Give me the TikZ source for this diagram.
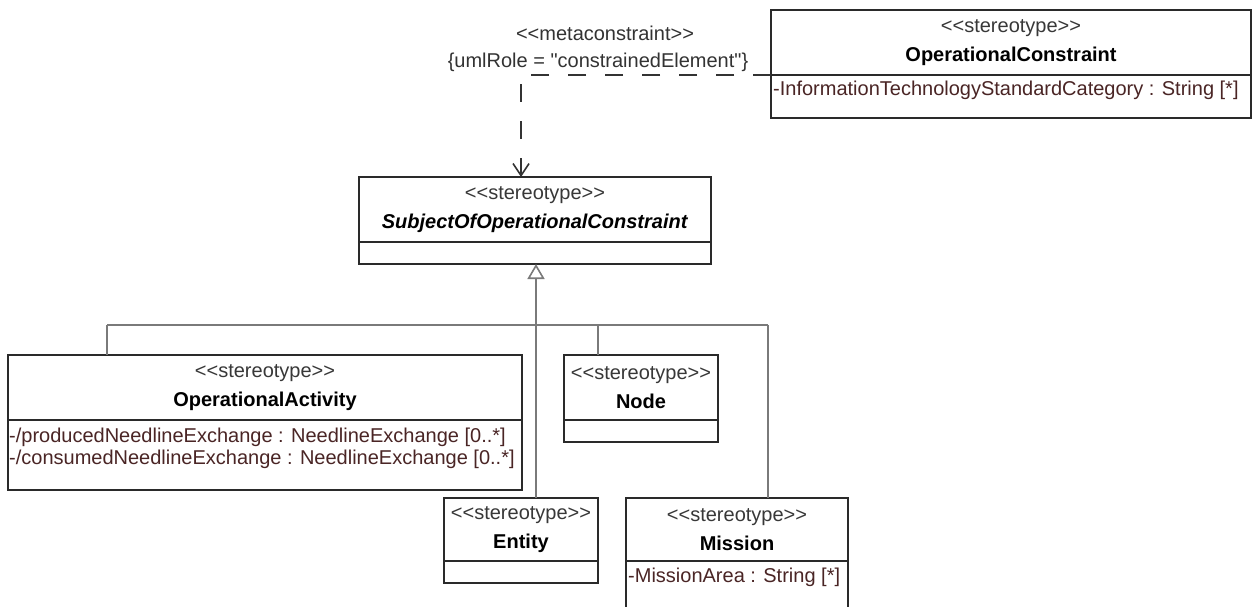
\documentclass[tikz,border=0pt]{standalone}
\usepackage{fontspec}
\setmainfont{Liberation Sans}[Ligatures=TeXOff]
\usetikzlibrary{arrows.meta}
\definecolor{boxline}{HTML}{2A2A2A}
\definecolor{conn}{HTML}{7A7A7A}
\definecolor{attr}{HTML}{4A2525}
\definecolor{stc}{HTML}{383838}
\definecolor{depc}{HTML}{333333}
\newcommand\stt[1]{\textcolor{stc}{#1}}
\begin{document}
\begin{tikzpicture}[x=1pt,y=1pt,
  hdr/.style={draw=boxline, line width=1.8pt, anchor=north west, inner sep=0pt, outer sep=0pt, align=center, font=\fontsize{20}{29}\selectfont},
  bdy/.style={draw=boxline, line width=1.8pt, anchor=north west, inner sep=0pt, outer sep=0pt},
  attrtxt/.style={anchor=west, inner sep=0pt, text=attr, font=\fontsize{20}{22}\selectfont},
  lbl/.style={inner sep=0pt, text=depc, font=\fontsize{20}{22}\selectfont},
  gen/.style={draw=conn, line width=1.6pt},
  dep/.style={draw=depc, line width=1.8pt, dash pattern=on 18pt off 19pt}]
\useasboundingbox (0,0) rectangle (1254,-606);
\clip (0,0) rectangle (1254,-606);
\fill[white] (0,0) rectangle (1254,-606);

% OperationalConstraint
\node[hdr, minimum width=480, minimum height=65] (ocH) at (771,-10) {\stt{<<stereotype>>}\\\textbf{OperationalConstraint}};
\node[bdy, minimum width=480, minimum height=43] (ocB) at (771,-75) {};
\node[attrtxt] (ocA) at (773,-90) {-InformationTechnologyStandardCategory : String [*]};

% SubjectOfOperationalConstraint
\node[hdr, minimum width=352, minimum height=65] (socH) at (359,-177) {\stt{<<stereotype>>}\\\textbf{\itshape SubjectOfOperationalConstraint}};
\node[bdy, minimum width=352, minimum height=22] (socB) at (359,-242) {};

% OperationalActivity
\node[hdr, minimum width=514, minimum height=65] (oaH) at (8,-355) {\stt{<<stereotype>>}\\\textbf{OperationalActivity}};
\node[bdy, minimum width=514, minimum height=70] (oaB) at (8,-420) {};
\node[attrtxt] (oaA1) at (9,-437) {-/producedNeedlineExchange : NeedlineExchange [0..*]};
\node[attrtxt] (oaA2) at (9,-459) {-/consumedNeedlineExchange : NeedlineExchange [0..*]};

% Node
\node[hdr, minimum width=154, minimum height=65] (ndH) at (564,-355) {\stt{<<stereotype>>}\\\textbf{Node}};
\node[bdy, minimum width=154, minimum height=22] (ndB) at (564,-420) {};

% Entity
\node[hdr, minimum width=154, minimum height=63] (enH) at (444,-498) {\stt{<<stereotype>>}\\\textbf{Entity}};
\node[bdy, minimum width=154, minimum height=22] (enB) at (444,-561) {};

% Mission
\node[hdr, minimum width=222, minimum height=63] (msH) at (626,-498) {\stt{<<stereotype>>}\\\textbf{Mission}};
\node[bdy, minimum width=222, minimum height=60] (msB) at (626,-561) {};
\node[attrtxt] (msA) at (628,-577) {-MissionArea : String [*]};

% metaconstraint dependency
\node[lbl] (mc) at (605,-33) {<<metaconstraint>>};
\node[lbl] (role) at (598,-62) {\{umlRole = "constrainedElement"\}};
\coordinate (dc) at (521,-75);
\draw[dep, -{Straight Barb[length=12pt, width=16pt, line width=1.6pt]}] (ocH.south west) -- (dc) -- (dc |- socH.north);

% generalizations
\coordinate (j) at (536,-325);
\coordinate (jA) at (107,-325);
\coordinate (jN) at (598,-325);
\coordinate (jM) at (768,-325);
\draw[gen] (jA) -- (jM);
\draw[gen] (jA) -- (jA |- oaH.north);
\draw[gen] (jN) -- (jN |- ndH.north);
\draw[gen] (jM) -- (jM |- msH.north);
\draw[gen, -{Triangle[open, length=15pt, width=17pt, fill=white]}] (j |- enH.north) -- (j |- socB.south);
\end{tikzpicture}
\end{document}
